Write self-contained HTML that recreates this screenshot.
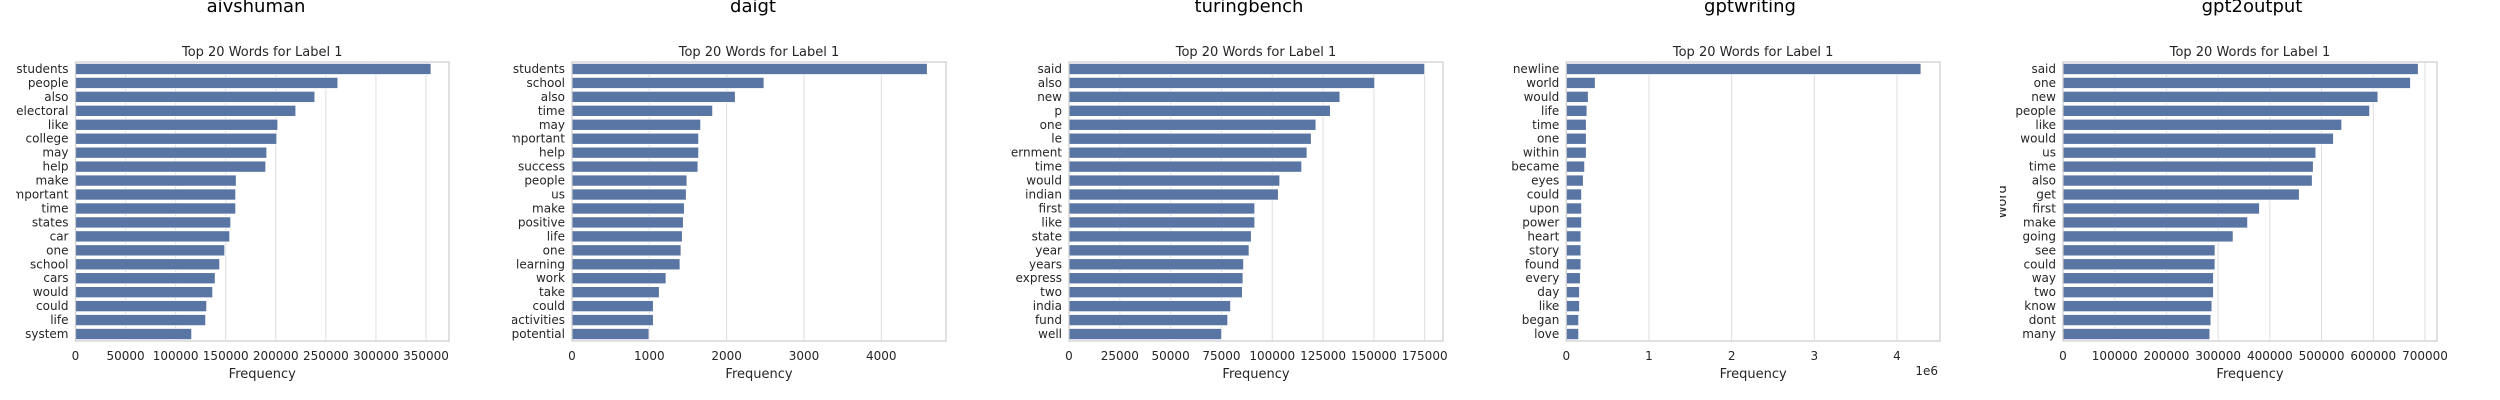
<!DOCTYPE html>
<html><head><meta charset="utf-8"><style>
html,body{margin:0;padding:0;background:#fff;}
svg{display:block;font-family:"DejaVu Sans","Liberation Sans",sans-serif;}
</style></head><body>
<svg id="fig" width="2500" height="400" viewBox="0 0 2500 400" xmlns="http://www.w3.org/2000/svg"></svg>
<script>
const aivWords = ["students","people","also","electoral","like","college","may","help","make","important","time","states","car","one","school","cars","would","could","life","system"];
const aivValues = [355000,262000,239000,220000,202000,201000,191000,190000,160500,160000,160000,155000,154000,149000,144000,139500,137000,131000,130000,116000];
const aivTicks = [0,50000,100000,150000,200000,250000,300000,350000];

const daigtWords = ["students","school","also","time","may","important","help","success","people","us","make","positive","life","one","learning","work","take","could","activities","potential"];
const daigtValues = [4595,2483,2112,1819,1664,1638,1638,1629,1487,1478,1453,1440,1427,1410,1397,1216,1129,1052,1052,996];
const daigtTicks = [0,1000,2000,3000,4000];

const turingWords = ["said","also","new","p","one","le","government","time","would","indian","first","like","state","year","years","express","two","india","fund","well"];
const turingValues = [175000,150400,133300,128600,121500,119200,117100,114500,103700,103000,91400,91400,89700,88600,85900,85600,85300,79500,78100,75100];
const turingTicks = [0,25000,50000,75000,100000,125000,150000,175000];

const gptwWords = ["newline","world","would","life","time","one","within","became","eyes","could","upon","power","heart","story","found","every","day","like","began","love"];
const gptwValues = [4290000,350000,266000,250000,242000,242000,242000,222000,206000,185000,185000,185000,177000,177000,177000,170000,160000,160000,150000,150000];
const gptwTicks = [0,1000000,2000000,3000000,4000000];
const gptwTickLabels = ["0","1","2","3","4"];

const gpt2Words = ["said","one","new","people","like","would","us","time","also","get","first","make","going","see","could","way","two","know","dont","many"];
const gpt2Values = [687000,672000,609000,593000,539000,523000,489000,484000,482000,457000,380000,357000,329000,294000,294000,291000,291000,288000,286000,284000];
const gpt2Ticks = [0,100000,200000,300000,400000,500000,600000,700000];

const panelTitles = ["aivshuman","daigt","turingbench","gptwriting","gpt2output"];

const NS = "http://www.w3.org/2000/svg";
const svg = document.getElementById("fig");
function mk(tag, attrs, parent, text){
  const e = document.createElementNS(NS, tag);
  for (const k in attrs) e.setAttribute(k, attrs[k]);
  if (text !== undefined) e.textContent = text;
  (parent || svg).appendChild(e);
  return e;
}

const panels = [
  {words:aivWords, values:aivValues, ticks:aivTicks, labels:null, left:75.5, right:449, px0:75.5, pxRef:426, ref:350000, clip:16, cx:256},
  {words:daigtWords, values:daigtValues, ticks:daigtTicks, labels:null, left:572, right:946, px0:572, pxRef:881.3, ref:4000, clip:512, cx:753},
  {words:turingWords, values:turingValues, ticks:turingTicks, labels:null, left:1069, right:1443, px0:1069, pxRef:1424.7, ref:175000, clip:1010, cx:1249},
  {words:gptwWords, values:gptwValues, ticks:gptwTicks, labels:gptwTickLabels, left:1566.3, right:1940, px0:1566.3, pxRef:1897, ref:4000000, clip:1512, cx:1750, offset:"1e6"},
  {words:gpt2Words, values:gpt2Values, ticks:gpt2Ticks, labels:null, left:2063, right:2437, px0:2063, pxRef:2425, ref:700000, clip:2000, cx:2252, ylabel:true}
];

const TOP = 62, BOTTOM = 341;
const defs = mk("defs", {});
panels.forEach((p, i) => {
  const cp = mk("clipPath", {id:"clip"+i}, defs);
  mk("rect", {x:p.clip, y:0, width:600, height:400}, cp);
  const g = mk("g", {"clip-path":"url(#clip"+i+")"});
  
  
  const xs = v => p.px0 + (v / p.ref) * (p.pxRef - p.px0);
  const n = p.words.length;
  const step = (BOTTOM - TOP) / n;
  const yc = k => TOP + step * (k + 0.5);

  const st = mk("text", {x:p.cx, y:12, "text-anchor":"middle", "font-size":18, fill:"#000"}, g, panelTitles[i]);
  
  

  const t = mk("text", {x:(p.left+p.right)/2, y:56, "text-anchor":"middle", "font-size":13, fill:"#262626"}, g, "Top 20 Words for Label 1");
  
  

  p.ticks.forEach((tv, k) => {
    const x = xs(tv);
    const gl = mk("line", {x1:x, x2:x, y1:TOP, y2:BOTTOM, stroke:"#dddddd", "stroke-width":1}, g);
    
    
    const tl = mk("text", {x:x, y:360, "text-anchor":"middle", "font-size":12, fill:"#262626"}, g, p.labels ? p.labels[k] : String(tv));
    
    
  });

  p.words.forEach((w, k) => {
    const h = step * 0.8;
    const b = mk("rect", {x:xs(0), y:yc(k) - h/2, width:xs(p.values[k]) - xs(0), height:h, fill:"#5975a4", stroke:"#ffffff", "stroke-width":0.8}, g);
    
    
    const yl = mk("text", {x:p.left - 7, y:yc(k) + 4, "text-anchor":"end", "font-size":12, fill:"#262626"}, g, w);
    
    
  });

  const fr = mk("rect", {x:p.left, y:TOP, width:p.right - p.left, height:BOTTOM - TOP, fill:"none", stroke:"#cccccc", "stroke-width":1.2}, g);
  
  

  const xl = mk("text", {x:(p.left+p.right)/2, y:378, "text-anchor":"middle", "font-size":13, fill:"#262626"}, g, "Frequency");
  
  

  if (p.offset) {
    const ot = mk("text", {x:p.right - 2, y:375, "text-anchor":"end", "font-size":12, fill:"#262626"}, g, p.offset);
    
    
  }
  if (p.ylabel) {
    const yt = mk("text", {x:0, y:0, transform:"translate(2006,202) rotate(-90)", "text-anchor":"middle", "font-size":13, fill:"#262626"}, g, "Word");
    
    
  }
});
</script>
</body></html>
